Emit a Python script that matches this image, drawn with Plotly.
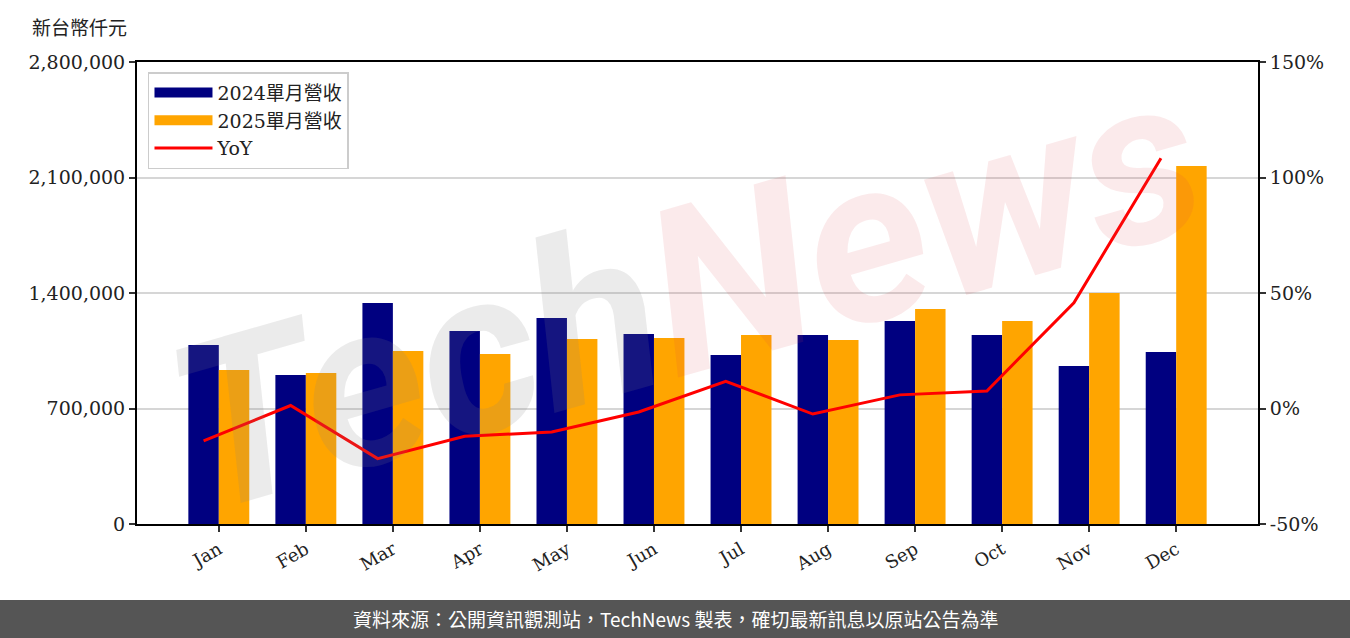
import plotly.graph_objects as go

months = ["Jan", "Feb", "Mar", "Apr", "May", "Jun", "Jul", "Aug", "Sep", "Oct", "Nov", "Dec"]
rev_2024 = [1084800, 903000, 1339000, 1170000, 1248000, 1152000, 1024000, 1145000, 1230000, 1145000, 958000, 1042000]
rev_2025 = [933000, 915000, 1048000, 1030000, 1121000, 1127000, 1145000, 1115000, 1303000, 1230000, 1400000, 2170000]
yoy_pct = [-14.0, 1.3, -21.7, -12.0, -10.2, -1.5, 11.8, -2.4, 5.9, 7.6, 45.8, 108.3]

left_ticks = [0, 700000, 1400000, 2100000, 2800000]
right_ticks = [-50, 0, 50, 100, 150]
right_tick_text = ["-50%", "0%", "50%", "100%", "150%"]

idx = list(range(len(months)))
bw = 0.35
line_x = [i - bw / 2 for i in idx]

SERIF = "DejaVu Serif, Noto Sans CJK TC, serif"
CJK = "Noto Sans CJK TC, sans-serif"
NAVY = "#000080"
ORANGE = "#FFA500"
RED = "#FF0000"

fig = go.Figure()
fig.add_trace(go.Bar(x=idx, y=rev_2024, width=bw, offset=-bw, name="2024單月營收",
                     marker=dict(color=NAVY, line=dict(width=0)), showlegend=False))
fig.add_trace(go.Bar(x=idx, y=rev_2025, width=bw, offset=0, name="2025單月營收",
                     marker=dict(color=ORANGE, line=dict(width=0)), showlegend=False))
fig.add_trace(go.Scatter(x=line_x, y=yoy_pct, name="YoY", mode="lines", yaxis="y2",
                         line=dict(color=RED, width=3), showlegend=False))

# legend entries (wide patches like the reference)
fig.add_trace(go.Scatter(x=[None], y=[None], mode="lines", name="2024單月營收",
                         line=dict(color=NAVY, width=15)))
fig.add_trace(go.Scatter(x=[None], y=[None], mode="lines", name="2025單月營收",
                         line=dict(color=ORANGE, width=15)))
fig.add_trace(go.Scatter(x=[None], y=[None], mode="lines", name="YoY",
                         line=dict(color=RED, width=3)))

fig.update_layout(
    width=1350, height=638,
    margin=dict(l=137, r=92, t=62, b=114),
    paper_bgcolor="white", plot_bgcolor="white",
    barmode="overlay",
    font=dict(family=SERIF, size=19, color="#222222"),
    xaxis=dict(range=[-0.94, 11.94], tickvals=idx, ticktext=months, tickangle=-30,
               showgrid=False, zeroline=False, showline=True, linecolor="black", linewidth=2,
               mirror=True, ticks="outside", ticklen=6, tickwidth=2, tickcolor="#333333",
               tickfont=dict(family=SERIF, size=18)),
    yaxis=dict(range=[0, 2800000], tickvals=left_ticks, tickformat=",d",
               showgrid=True, gridcolor="#d6d6d6", gridwidth=1.5, zeroline=False,
               showline=True, linecolor="black", linewidth=2,
               ticks="outside", ticklen=6, tickwidth=2, tickcolor="#333333",
               tickfont=dict(family=SERIF, size=19)),
    yaxis2=dict(range=[-50, 150], tickmode="array", tickvals=right_ticks, ticktext=right_tick_text,
                overlaying="y", side="right", showgrid=False, zeroline=False,
                showline=True, linecolor="black", linewidth=2,
                ticks="outside", ticklen=6, tickwidth=2, tickcolor="#333333",
                tickfont=dict(family=SERIF, size=19)),
    legend=dict(x=0.0098, y=0.978, xanchor="left", yanchor="top",
                bgcolor="rgba(255,255,255,0.85)", bordercolor="#cccccc", borderwidth=1.5,
                font=dict(family=SERIF, size=19), tracegroupgap=4, itemwidth=58,
                traceorder="normal"),
    showlegend=True,
)

# footer band
fig.add_shape(type="rect", xref="paper", yref="paper",
              x0=-0.13, x1=1.09, y0=-0.1645, y1=-0.26,
              fillcolor="#555555", line=dict(width=0), layer="above")

fig.add_annotation(xref="paper", yref="paper", x=0.48, y=-0.2056, xanchor="center", yanchor="middle",
                   text="資料來源：公開資訊觀測站，TechNews 製表，確切最新訊息以原站公告為準",
                   showarrow=False, font=dict(family=CJK, size=19, color="white"))

# unit label
fig.add_annotation(xref="paper", yref="paper", x=-0.0955, y=1.0758, xanchor="left", yanchor="middle",
                   text="新台幣仟元", showarrow=False,
                   font=dict(family="Noto Sans CJK TC, serif", size=19, color="#222222"))

# watermark
fig.add_annotation(xref="paper", yref="paper", x=0.49, y=0.50, xanchor="center", yanchor="middle",
                   text="<span style='color:rgba(128,128,128,0.16)'>Tech</span>"
                        "<span style='color:rgba(215,60,70,0.11)'>News</span>",
                   showarrow=False, textangle=-16,
                   font=dict(family="Roboto", size=232, style="italic", weight=700))

fig.write_html("out.html", config={"displayModeBar": False},
               post_script="document.body.style.margin='0';document.body.style.overflow='hidden';")
